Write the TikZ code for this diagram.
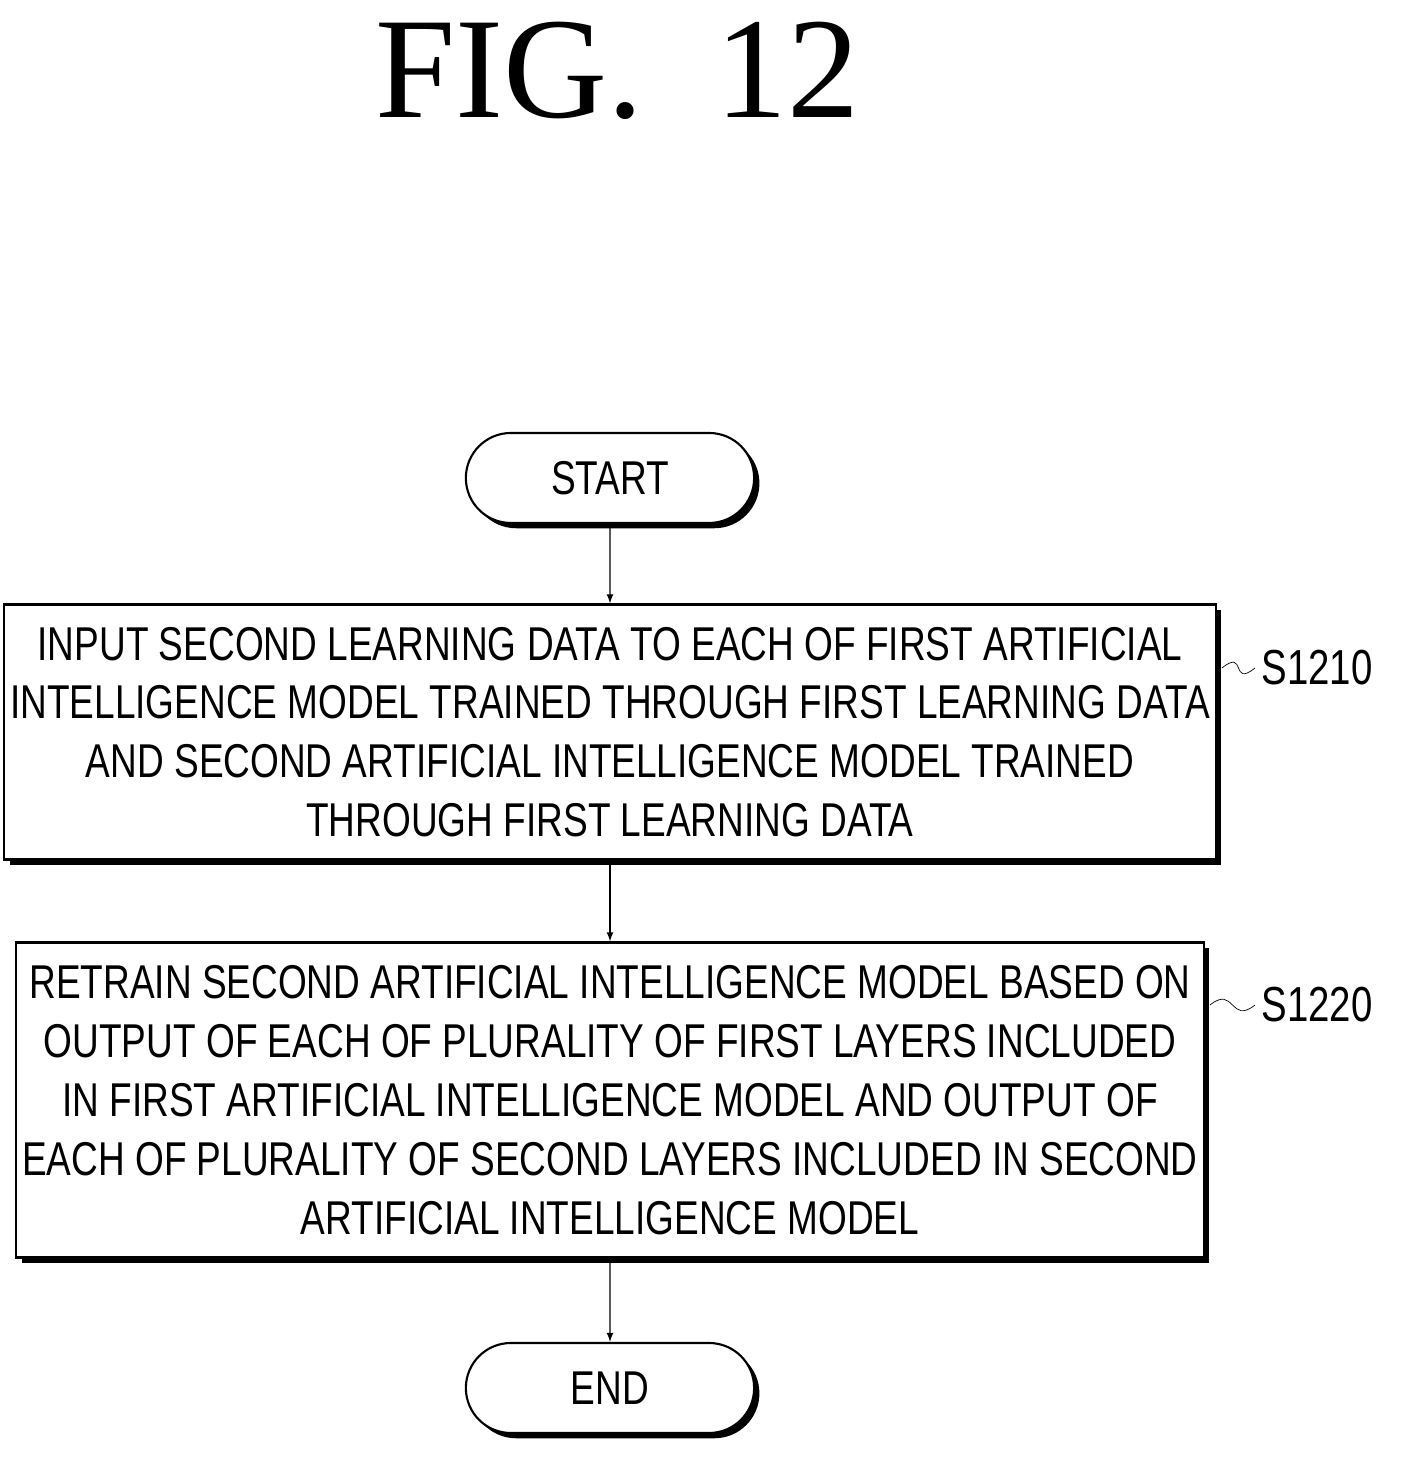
\documentclass[tikz,border=0pt]{standalone}
\usepackage{fontspec}
\setmainfont{Liberation Serif}
\newfontfamily\stepfont[FakeStretch=0.78]{Liberation Sans}
\usetikzlibrary{shadows,shapes.misc}
\begin{document}
\begin{tikzpicture}[thick,
  step box/.style={draw,line width=1.2pt,fill=white,font=\stepfont\fontsize{27}{33.5}\selectfont,align=center,
    drop shadow={shadow xshift=3pt,shadow yshift=-3pt,fill=black,opacity=1}},
  term node/.style={draw,line width=1.2pt,fill=white,rounded rectangle,minimum width=6cm,minimum height=1.8cm,font=\stepfont\fontsize{27}{33}\selectfont,
    drop shadow={shadow xshift=3pt,shadow yshift=-3pt,fill=black,opacity=1}},
  step label/.style={font=\stepfont\fontsize{28}{33}\selectfont,anchor=west}]

  \useasboundingbox (0,0) rectangle (28.02,29.22);

  \node[font=\fontsize{82}{82}\selectfont] at (12.35,27.8) (title) {FIG.\ \ 12};

  \node[term node] at (12.2,19.66) (start) {START};
  \node[step box,minimum width=23.52cm,minimum height=5.1cm] at (12.2,14.58) (s1210)
    {INPUT SECOND LEARNING DATA TO EACH OF FIRST ARTIFICIAL\\
     INTELLIGENCE MODEL TRAINED THROUGH FIRST LEARNING DATA\\
     AND SECOND ARTIFICIAL INTELLIGENCE MODEL TRAINED\\
     THROUGH FIRST LEARNING DATA};
  \node[step box,minimum width=23.52cm,minimum height=6.3cm] at (12.2,7.22) (s1220)
    {RETRAIN SECOND ARTIFICIAL INTELLIGENCE MODEL BASED ON\\
     OUTPUT OF EACH OF PLURALITY OF FIRST LAYERS INCLUDED\\
     IN FIRST ARTIFICIAL INTELLIGENCE MODEL AND OUTPUT OF\\
     EACH OF PLURALITY OF SECOND LAYERS INCLUDED IN SECOND\\
     ARTIFICIAL INTELLIGENCE MODEL};
  \node[term node] at (12.2,1.46) (end) {END};

  \node[step label] at (25.1,15.86) (l1210) {S1210};
  \node[step label] at (25.1,9.12) (l1220) {S1220};

  \draw[-latex] (start) -- (s1210);
  \draw[-latex] (s1210) -- (s1220);
  \draw[-latex] (s1220) -- (end);

  \draw[thin] ([xshift=3pt]s1210.east |- l1210.west) .. controls +(0.5,0.4) and +(-0.5,-0.4) .. (l1210.west);
  \draw[thin] ([xshift=3pt]s1220.east |- l1220.west) .. controls +(0.5,0.4) and +(-0.5,-0.4) .. (l1220.west);
\end{tikzpicture}
\end{document}
